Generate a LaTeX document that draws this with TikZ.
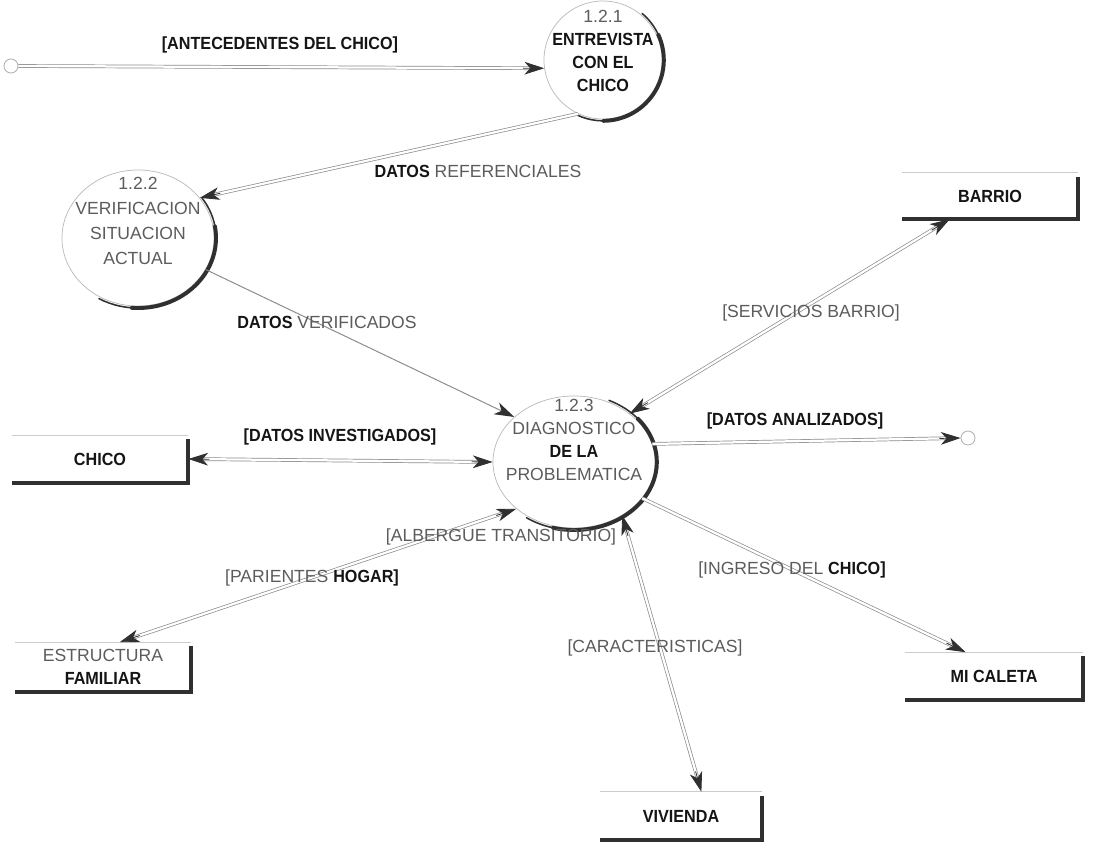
\documentclass[tikz,border=0pt]{standalone}
\usepackage{fontspec}
\setmainfont{Liberation Sans}[BoldFeatures={FakeStretch=0.92}]
\usetikzlibrary{arrows.meta,shapes.geometric,calc}
\definecolor{txtgray}{HTML}{5C5C5C}
\definecolor{ink}{HTML}{151515}
\definecolor{flowgray}{HTML}{8C8C8C}
\definecolor{shade}{HTML}{303030}
\newcommand{\bk}[1]{\textcolor{ink}{\bfseries #1}}
% double flow, tip at second end
\newcommand{\flowone}[2]{%
  \draw[dline, shorten >=11pt] (#1) -- (#2);
  \draw[tipline] ($(#2)!15pt!(#1)$) -- (#2);}
% double flow, tips at both ends
\newcommand{\flowtwo}[2]{%
  \draw[dline, shorten >=11pt, shorten <=11pt] (#1) -- (#2);
  \draw[tipline] ($(#2)!15pt!(#1)$) -- (#2);
  \draw[tipline] ($(#1)!15pt!(#2)$) -- (#1);}
\begin{document}
\begin{tikzpicture}[x=0.025cm, y=-0.025cm,
  every node/.style={font=\fontsize{12.5}{16.5}\selectfont},
  lbl/.style={text=txtgray, inner sep=1pt},
  blbl/.style={text=ink, font=\fontsize{12.5}{16.5}\selectfont\bfseries, inner sep=1pt},
  proc/.style={ellipse, draw=gray!55, line width=0.5pt, inner sep=0pt},
  ptext/.style={align=center, text=txtgray, inner sep=0pt},
  rimthin/.style={draw=shade, line width=1.1pt, line cap=round},
  rimthick/.style={draw=shade, line width=2.8pt, line cap=round},
  store/.style={rectangle, inner sep=0pt, text=ink, font=\fontsize{12.5}{16.5}\selectfont\bfseries},
  storetop/.style={draw=gray!40, line width=0.5pt},
  storeedge/.style={draw=shade, line width=3pt},
  tipx/.tip={Stealth[length=14pt, width=9pt, inset=4pt, color=shade]},
  dline/.style={draw=flowgray, line width=0.5pt, double=white, double distance=1.6pt},
  tipline/.style={draw=shade, line width=0.6pt, -tipx},
  sflow/.style={draw=flowgray, line width=0.7pt, -tipx},
  endc/.style={circle, draw=gray!60, line width=0.6pt, minimum size=0.35cm, inner sep=0pt}
]
\fill[white] (0,0) rectangle (1093,848);
\useasboundingbox (0,0) rectangle (1093,848);

% processes
\node[proc, minimum width=2.95cm, minimum height=2.95cm] (c1) at (603,60) {};
\node[proc, minimum width=3.8cm, minimum height=3.4cm] (c2) at (138,238) {};
\node[proc, minimum width=4.05cm, minimum height=3.3cm] (c3) at (574,462) {};

\draw[rimthin] (c1.center) ++(50:1.52cm) arc[start angle=50, end angle=-115, radius=1.52cm];
\draw[rimthick] (c1.center) ++(25:1.52cm) arc[start angle=25, end angle=-90, radius=1.52cm];
\draw[rimthin] (c2.center) ++(35:1.95cm and 1.75cm) arc[start angle=35, end angle=-120, x radius=1.95cm, y radius=1.75cm];
\draw[rimthick] (c2.center) ++(10:1.95cm and 1.75cm) arc[start angle=10, end angle=-95, x radius=1.95cm, y radius=1.75cm];
\draw[rimthin] (c3.center) ++(65:2.07cm and 1.7cm) arc[start angle=65, end angle=-125, x radius=2.07cm, y radius=1.7cm];
\draw[rimthick] (c3.center) ++(40:2.07cm and 1.7cm) arc[start angle=40, end angle=-105, x radius=2.07cm, y radius=1.7cm];

\node[ptext] (t1) at (603,51) {1.2.1\\\bk{ENTREVISTA}\\\bk{CON EL}\\\bk{CHICO}};
\node[ptext, font=\fontsize{12.5}{17.8}\selectfont] (t2) at (138,221) {1.2.2\\VERIFICACION\\SITUACION\\ACTUAL};
\node[ptext] (t3) at (574,440) {1.2.3\\DIAGNOSTICO\\\bk{DE LA}\\PROBLEMATICA};

% stores
\node[store, minimum width=4.4cm, minimum height=1.15cm] (barrio) at (990,196) {BARRIO};
\node[store, minimum width=4.4cm, minimum height=1.175cm] (chico) at (100,459) {CHICO};
\node[store, minimum width=4.375cm, minimum height=1.225cm, align=center] (estr) at (103,667) {\textcolor{txtgray}{\mdseries ESTRUCTURA}\\FAMILIAR};
\node[store, minimum width=4.45cm, minimum height=1.175cm] (mical) at (994,676) {MI CALETA};
\node[store, minimum width=4.05cm, minimum height=1.2cm] (viv) at (681,816) {VIVIENDA};
\foreach \n in {barrio,chico,estr,mical,viv}{
  \draw[storetop] (\n.north west) -- (\n.north east);
  \draw[storeedge] (\n.north east) ++(0,4) -- (\n.south east) -- (\n.south west);
}

% terminators
\node[endc] (src) at (11,66) {};
\node[endc] (snk) at (968,438) {};

% flows
\flowone{src.east}{c1.188}
\flowone{c1.-115}{c2.33}
\draw[sflow] (c2.-25) -- (c3.143);
\flowtwo{barrio.210}{c3.41}
\flowtwo{chico.east}{c3.west}
\flowone{c3.13}{snk.west}
\flowtwo{c3.219}{estr.56}
\flowtwo{c3.-48}{viv.50}
\flowone{c3.-28}{mical.140}

% labels
\node[blbl] (l1) at (280,45) {[ANTECEDENTES DEL CHICO]};
\node[lbl] (l2) at (478,171) {\bk{DATOS} REFERENCIALES};
\node[lbl] (l3) at (327,322) {\bk{DATOS} VERIFICADOS};
\node[lbl] (l4) at (811,313) {[SERVICIOS BARRIO]};
\node[blbl] (l5) at (340,437) {[DATOS INVESTIGADOS]};
\node[blbl] (l6) at (795,421) {[DATOS ANALIZADOS]};
\node[lbl] (l7) at (501,537) {[ALBERGUE TRANSITORIO]};
\node[lbl] (l8) at (312,578) {[PARIENTES \bk{HOGAR]}};
\node[lbl] (l9) at (655,648) {[CARACTERISTICAS]};
\node[lbl] (l10) at (792,570) {[INGRESO DEL \bk{CHICO]}};
\end{tikzpicture}
\end{document}
